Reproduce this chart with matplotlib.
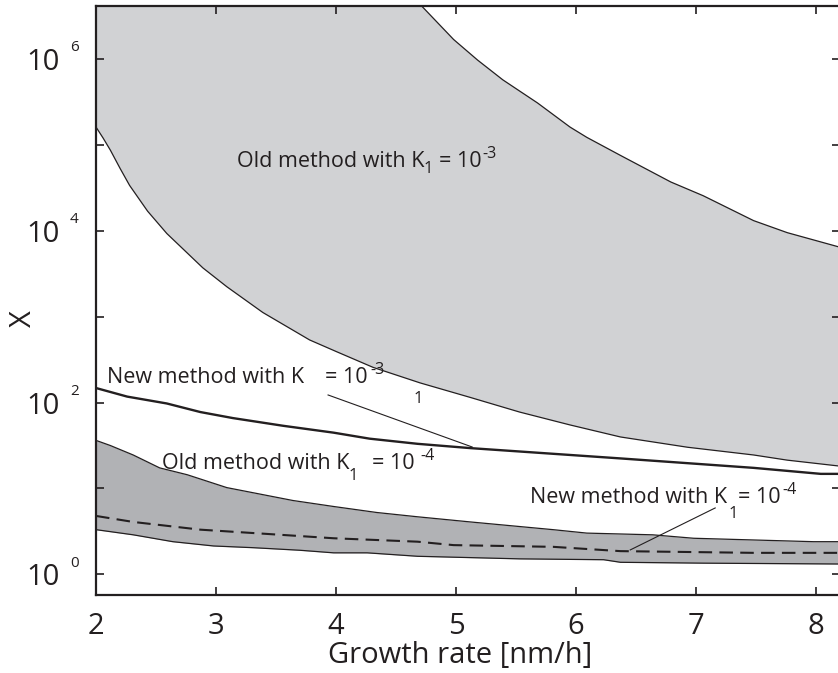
import numpy as np
import matplotlib.pyplot as plt
from matplotlib.ticker import FixedLocator, FuncFormatter, NullLocator

plt.rcParams['font.family'] = 'Open Sans'

# data (y values as log10 X)
old3_up_x = [2.0, 3.0, 4.0, 4.5, 4.70, 4.98, 5.18, 5.39, 5.68, 5.95, 6.09, 6.37, 6.79, 7.06, 7.48, 7.76, 8.2]
old3_up_log = [10.5, 9.0, 7.6, 6.9, 6.64, 6.23, 5.99, 5.76, 5.49, 5.21, 5.09, 4.88, 4.57, 4.41, 4.12, 3.98, 3.81]

old3_lo_x = [2.00, 2.06, 2.12, 2.20, 2.28, 2.43, 2.59, 2.89, 3.09, 3.39, 3.78, 4.01, 4.31, 4.70, 5.12, 5.53, 5.95, 6.37, 6.93, 7.48, 7.76, 8.2]
old3_lo_log = [5.21, 5.08, 4.94, 4.73, 4.53, 4.23, 3.97, 3.57, 3.35, 3.05, 2.73, 2.59, 2.41, 2.23, 2.06, 1.89, 1.74, 1.60, 1.48, 1.39, 1.33, 1.26]

new3_x = [2.00, 2.26, 2.59, 2.87, 3.14, 3.56, 3.98, 4.28, 4.68, 5.12, 6.37, 7.48, 8.04, 8.2]
new3_log = [2.17, 2.07, 1.99, 1.89, 1.82, 1.73, 1.65, 1.58, 1.52, 1.47, 1.35, 1.24, 1.17, 1.17]

old4_up_x = [2.00, 2.12, 2.31, 2.53, 2.76, 3.09, 3.31, 3.64, 3.98, 4.34, 4.68, 5.12, 5.81, 6.09, 6.64, 6.98, 7.48, 7.98, 8.2]
old4_up_log = [1.56, 1.50, 1.39, 1.24, 1.16, 1.01, 0.95, 0.86, 0.79, 0.72, 0.67, 0.61, 0.52, 0.48, 0.46, 0.42, 0.40, 0.38, 0.38]

old4_lo_x = [2.00, 2.31, 2.64, 2.98, 3.31, 3.70, 3.98, 4.26, 4.68, 5.53, 6.23, 6.37, 7.06, 8.2]
old4_lo_log = [0.52, 0.46, 0.38, 0.33, 0.31, 0.28, 0.25, 0.25, 0.21, 0.18, 0.17, 0.14, 0.13, 0.12]

new4_x = [2.00, 2.31, 2.87, 3.43, 3.98, 4.68, 4.98, 5.81, 6.37, 6.93, 7.48, 8.2]
new4_log = [0.68, 0.61, 0.52, 0.47, 0.42, 0.38, 0.34, 0.32, 0.27, 0.26, 0.25, 0.25]

decades = [0, 1, 2, 3, 4, 5, 6]
labelled = [0, 2, 4, 6]

ink = '#231f20'
light = '#d1d2d4'
dark = '#b1b2b5'

fig = plt.figure(figsize=(8.38, 6.73), dpi=100)
ax = fig.add_axes([96 / 838, 1 - 595 / 673, 744 / 838, 589 / 673])

xs = np.linspace(2, 8.2, 400)
ax.fill_between(xs, 10 ** np.interp(xs, old3_lo_x, old3_lo_log), 10 ** np.interp(xs, old3_up_x, old3_up_log),
                color=light, lw=0)
ax.fill_between(xs, 10 ** np.interp(xs, old4_lo_x, old4_lo_log), 10 ** np.interp(xs, old4_up_x, old4_up_log),
                color=dark, lw=0)

ax.plot(old3_up_x, 10 ** np.array(old3_up_log), color=ink, lw=0.9)
ax.plot(old3_lo_x, 10 ** np.array(old3_lo_log), color=ink, lw=0.9)
ax.plot(old4_up_x, 10 ** np.array(old4_up_log), color=ink, lw=0.9)
ax.plot(old4_lo_x, 10 ** np.array(old4_lo_log), color=ink, lw=0.9)
ax.plot(new3_x, 10 ** np.array(new3_log), color=ink, lw=1.7)
ax.plot(new4_x, 10 ** np.array(new4_log), color=ink, lw=1.5, ls=(0, (6.5, 3.5)))

ax.set_yscale('log')
ax.set_xlim(2, 8.2)
ax.set_ylim(10 ** -0.241, 10 ** 6.62)

ax.xaxis.set_major_locator(FixedLocator([2, 3, 4, 5, 6, 7, 8]))
ax.yaxis.set_major_locator(FixedLocator([10.0 ** e for e in decades]))
ax.yaxis.set_minor_locator(NullLocator())
ax.yaxis.set_major_formatter(FuncFormatter(
    lambda v, p: '10' if round(np.log10(v)) in labelled else ''))
ax.tick_params(direction='in', length=6, width=1.2, top=True, right=True, colors=ink)
ax.tick_params(axis='x', pad=12, labelsize=21)
ax.tick_params(axis='y', pad=26, labelsize=21)
for s in ax.spines.values():
    s.set_linewidth(1.6)
    s.set_color(ink)

# exponents of the y tick labels
for e in labelled:
    ax.text(-0.035, 10 ** (e + 0.09), str(e), transform=ax.get_yaxis_transform(),
            fontsize=11, color=ink, ha='left', va='baseline')

fig.text(460 / 838, 1 - 663 / 673, 'Growth rate [nm/h]', fontsize=21, ha='center', va='baseline', color=ink)
fig.text(23 / 838, 1 - 319 / 673, 'X', fontsize=21, rotation=90, ha='center', va='center', color=ink)

tk = dict(fontsize=15.5, color=ink, va='baseline')
sk = dict(fontsize=12, color=ink, va='baseline')
ek = dict(fontsize=11.5, color=ink, va='baseline')
# Old method K1 = 1e-3
ax.text(3.175, 10 ** 4.745, 'Old method with K', **tk)
ax.text(4.726, 10 ** 4.675, '1', **sk)
ax.text(4.86, 10 ** 4.745, '= 10', **tk)
ax.text(5.218, 10 ** 4.85, '-3', **ek)
# New method K1 = 1e-3
ax.text(2.092, 10 ** 2.229, 'New method with K', **tk)
ax.text(4.643, 10 ** 1.996, '1', **sk)
ax.text(3.909, 10 ** 2.229, '= 10', **tk)
ax.text(4.284, 10 ** 2.334, '-3', **ek)
ax.plot([3.934, 5.135], [10 ** 2.089, 10 ** 1.483], color=ink, lw=0.8)
# Old method K1 = 1e-4
ax.text(2.55, 10 ** 1.227, 'Old method with K', **tk)
ax.text(4.101, 10 ** 1.099, '1', **sk)
ax.text(4.30, 10 ** 1.227, '= 10', **tk)
ax.text(4.701, 10 ** 1.332, '-4', **ek)
# New method K1 = 1e-4
ax.text(5.618, 10 ** 0.831, 'New method with K', **tk)
ax.text(7.269, 10 ** 0.656, '1', **sk)
ax.text(7.352, 10 ** 0.831, '= 10', **tk)
ax.text(7.719, 10 ** 0.936, '-4', **ek)
ax.plot([7.16, 6.452], [10 ** 0.773, 10 ** 0.284], color=ink, lw=0.8)

fig.savefig('out.png', dpi=100)
